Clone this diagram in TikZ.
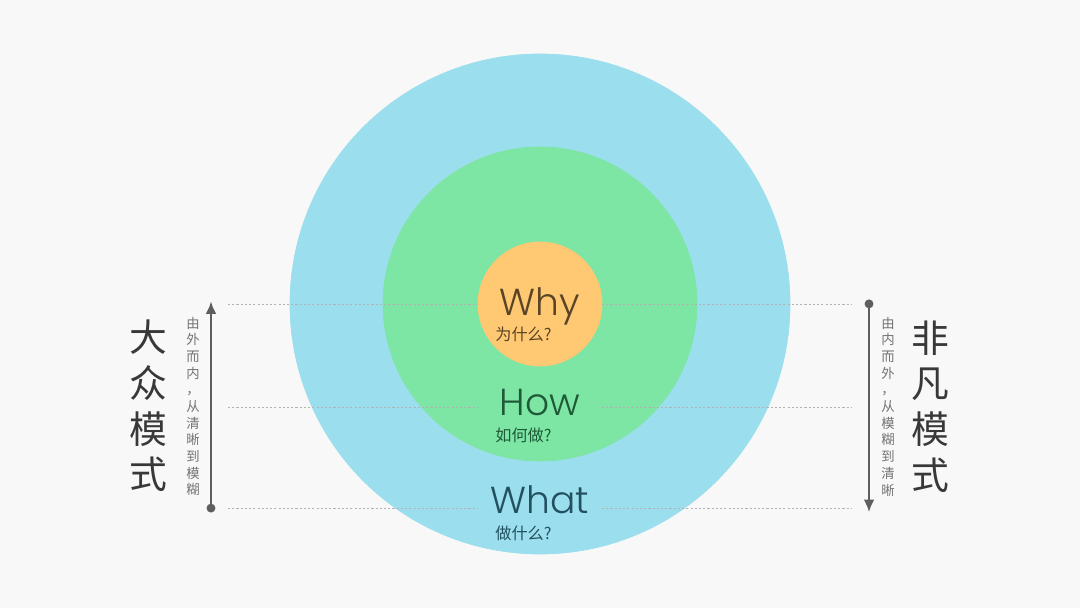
\documentclass[tikz,border=0pt]{standalone}
\usepackage{fontspec}
\setmainfont{Poppins}[UprightFont=* Light]
\newfontfamily\cjk{Noto Sans CJK SC}
\usetikzlibrary{arrows.meta}
\definecolor{outerblue}{HTML}{9BDFEE}
\definecolor{midgreen}{HTML}{7EE6A5}
\definecolor{coreorange}{HTML}{FFC872}
\definecolor{bggray}{HTML}{F8F8F8}
\definecolor{arrowgray}{HTML}{5E5E5E}
\definecolor{whytext}{HTML}{5A4426}
\definecolor{howtext}{HTML}{1E5A36}
\definecolor{whattext}{HTML}{22505F}
\tikzset{
  guide/.style={draw=gray!60, line width=0.4pt, dash pattern=on 1.2pt off 1.2pt},
  side/.style={draw=arrowgray, line width=1.1pt},
  word/.style={anchor=base, inner sep=0pt, font=\fontsize{21.4}{24}\selectfont},
  sub/.style={anchor=west, inner sep=0pt, font=\cjk\fontsize{9.2}{10}\selectfont},
  mode/.style={align=center, inner sep=0pt, text=black!78, font=\cjk\fontsize{21.5}{26}\selectfont},
  hint/.style={align=center, inner sep=0pt, text=black!55, font=\cjk\fontsize{7.6}{9.5}\selectfont}
}
\begin{document}
\begin{tikzpicture}
   \fill[bggray] (-10.8, -6.08) rectangle (10.8, 6.08);
   \filldraw[fill=outerblue, draw=outerblue] (0, 0) circle (5.0);
   \filldraw[fill=midgreen, draw=midgreen] (0, 0) circle (3.14);
   \filldraw[fill=coreorange, draw=coreorange] (0, 0) circle (1.24);
   \foreach \y in {0, -2.06, -4.08} {
     \draw[guide] (-6.24, \y) -- (-1.26, \y);
     \draw[guide] (1.24, \y) -- (6.24, \y);
   }
   \node[word, text=whytext] (why) at (0, -0.24) {Why};
   \node[sub, text=whytext] (whysub) at (-0.9, -0.6) {为什么?};
   \node[word, text=howtext] (how) at (0, -2.24) {How};
   \node[sub, text=howtext] (howsub) at (-0.9, -2.62) {如何做?};
   \node[word, text=whattext] (what) at (0, -4.2) {What};
   \node[sub, text=whattext] (whatsub) at (-0.9, -4.58) {做什么?};
   \coordinate (ltop) at (-6.58, 0.05);
   \coordinate (lbot) at (-6.58, -4.17);
   \coordinate (rtop) at (6.58, 0.09);
   \coordinate (rbot) at (6.58, -4.16);
   \draw[side, {Circle[length=5pt]}-{Latex[length=7pt, width=6pt]}] (lbot) -- (ltop);
   \draw[side, {Circle[length=5pt]}-{Latex[length=7pt, width=6pt]}] (rtop) -- (rbot);
   \node[mode] (public) at (-7.84, -2.04) {大\\众\\模\\式};
   \node[hint] (outin) at (-6.94, -2.05) {由\\外\\而\\内\\，\\从\\清\\晰\\到\\模\\糊};
   \node[mode] (special) at (7.8, -2.05) {非\\凡\\模\\式};
   \node[hint] (inout) at (6.96, -2.05) {由\\内\\而\\外\\，\\从\\模\\糊\\到\\清\\晰};
\end{tikzpicture}
\end{document}
